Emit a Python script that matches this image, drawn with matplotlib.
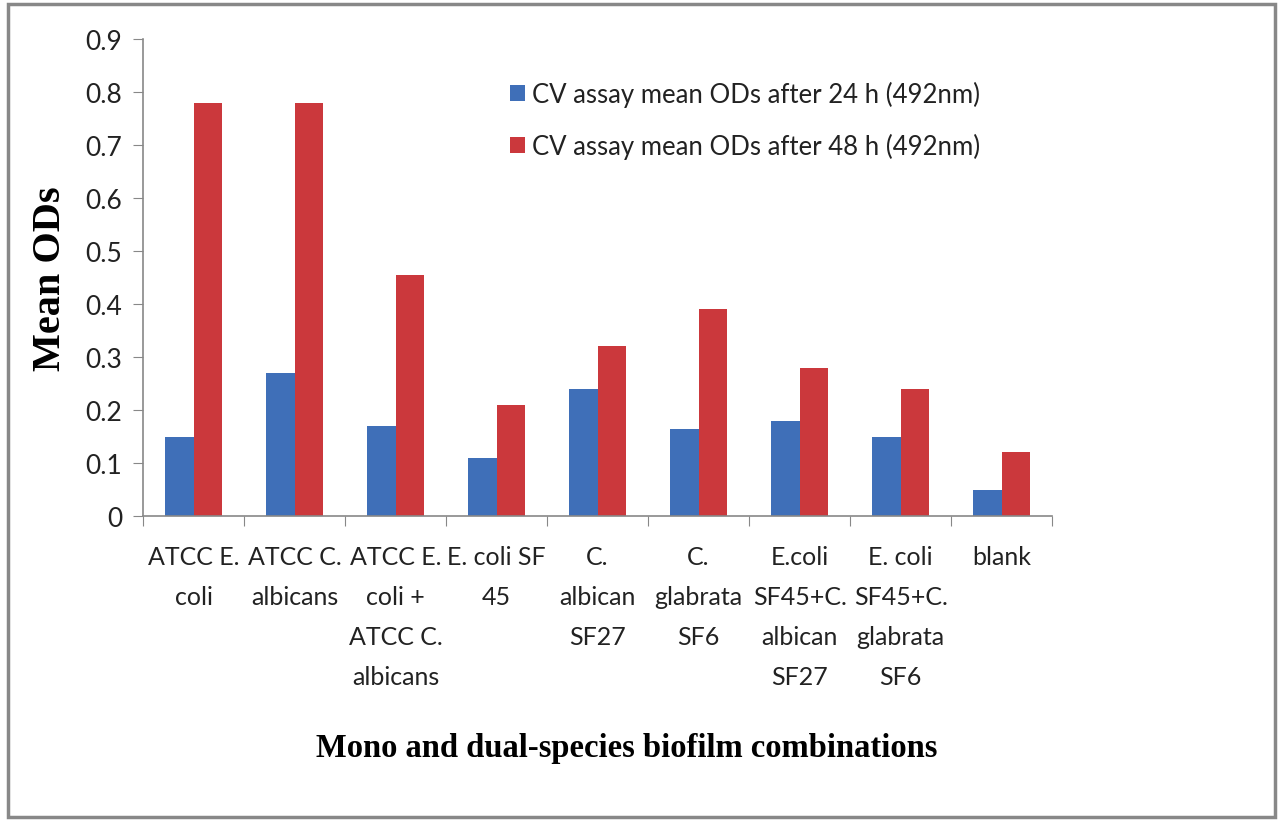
import numpy as np
import matplotlib.pyplot as plt
from matplotlib.patches import Rectangle

# Biofilm combinations on the x axis
labels = ["ATCC E.\ncoli", "ATCC C.\nalbicans", "ATCC E.\ncoli +\nATCC C.\nalbicans",
          "E. coli SF\n45", "C.\nalbican\nSF27", "C.\nglabrata\nSF6",
          "E.coli\nSF45+C.\nalbican\nSF27", "E. coli\nSF45+C.\nglabrata\nSF6", "blank"]

# Mean optical densities (492 nm)
od_24h = [0.15, 0.27, 0.17, 0.11, 0.24, 0.165, 0.18, 0.15, 0.05]
od_48h = [0.78, 0.78, 0.455, 0.21, 0.32, 0.39, 0.28, 0.24, 0.12]

tick_font = "Lato"
serif_font = "Liberation Serif"

fig = plt.figure(figsize=(12.84, 8.28), dpi=100)
ax = fig.add_axes([0.1114, 0.3756, 0.708, 0.576])

x = np.arange(len(labels))
w = 0.283
ax.bar(x - w / 2, od_24h, w, color="#3F6FB8", label="CV assay mean ODs after 24 h (492nm)")
ax.bar(x + w / 2, od_48h, w, color="#CB383C", label="CV assay mean ODs after 48 h (492nm)")

ax.set_xlim(-0.5, len(labels) - 0.5)
ax.set_ylim(0, 0.9)
ax.set_yticks(np.arange(0, 0.91, 0.1))
ax.set_yticklabels(["0"] + [f"{v:.1f}" for v in np.arange(0.1, 0.91, 0.1)],
                   fontsize=19, family=tick_font, color="#222222")

# category labels sit between the boundary ticks
ax.set_xticks(np.arange(-0.5, len(labels), 1.0))
ax.set_xticklabels([])
ax.tick_params(axis="x", length=7, color="#888888", direction="out")
ax.tick_params(axis="y", length=7, color="#888888", direction="out", pad=8)
for i, lab in enumerate(labels):
    ax.text(i, -0.055, lab, ha="center", va="top", fontsize=18, family=tick_font,
            color="#222222", linespacing=1.9)

for s in ["top", "right"]:
    ax.spines[s].set_visible(False)
for s in ["left", "bottom"]:
    ax.spines[s].set_color("#888888")
    ax.spines[s].set_linewidth(1.2)

ax.set_ylabel("Mean ODs", fontsize=29, family=serif_font, fontweight="bold", labelpad=12)
fig.text(0.488, 0.096, "Mono and dual-species biofilm combinations", ha="center", va="center",
         fontsize=23.5, family=serif_font, fontweight="bold")

ax.legend(loc="upper left", bbox_to_anchor=(0.378, 0.96), frameon=False,
          prop={"family": tick_font, "size": 18.5}, handlelength=0.6, handleheight=0.6,
          handletextpad=0.25, labelspacing=1.0, labelcolor="#222222")

# thin gray frame around the whole figure
fig.patches.append(Rectangle((0.006, 0.012), 0.987, 0.982, transform=fig.transFigure,
                             fill=False, edgecolor="#888888", linewidth=2.5))

fig.savefig("out.png", dpi=100)
